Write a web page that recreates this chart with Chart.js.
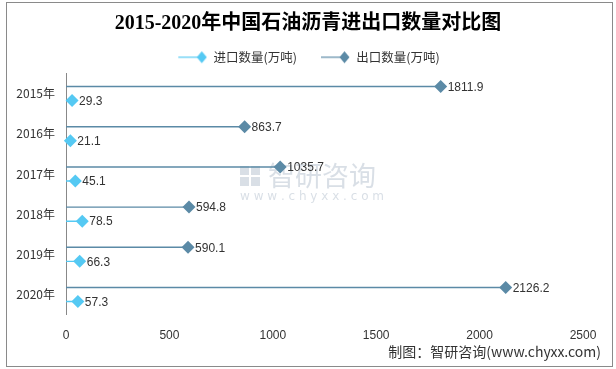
<!DOCTYPE html>
<html>
<head>
<meta charset="utf-8">
<script src="https://cdn.jsdelivr.net/npm/chart.js@4"></script>
<style>
  body { margin: 0; background: #fff; }
  #wrap { position: relative; width: 616px; height: 369px; }
  #frame { position: absolute; left: 6px; top: 2px; width: 605px; height: 363px; border: 1px solid #8a8a8a; pointer-events: none; }
</style>
</head>
<body>
<div id="wrap">
  <canvas id="chart" width="616" height="369"></canvas>
  <div id="frame"></div>
</div>
<script>
const years = ["2015年", "2016年", "2017年", "2018年", "2019年", "2020年"];
const exportVals = [1811.9, 863.7, 1035.7, 594.8, 590.1, 2126.2]; // 出口数量(万吨)
const importVals = [29.3, 21.1, 45.1, 78.5, 66.3, 57.3]; // 进口数量(万吨)
const xTicks = [0, 500, 1000, 1500, 2000, 2500];

const exportColor = "#5b8aa6";
const importColor = "#55c9f3";

// legend icon: blank gap, short line, diamond
function legendIcon(color) {
  const c = document.createElement("canvas");
  c.width = 43;
  c.height = 14;
  const ctx = c.getContext("2d");
  ctx.strokeStyle = color;
  ctx.lineWidth = 1.2;
  ctx.beginPath();
  ctx.moveTo(14, 7);
  ctx.lineTo(37, 7);
  ctx.stroke();
  ctx.fillStyle = color;
  ctx.beginPath();
  ctx.moveTo(37.5, 1);
  ctx.lineTo(42.5, 7);
  ctx.lineTo(37.5, 13);
  ctx.lineTo(32.5, 7);
  ctx.closePath();
  ctx.fill();
  return c;
}

// diamonds + value labels at the end of each thin bar
const endMarks = {
  id: "endMarks",
  afterDatasetsDraw(chart) {
    const ctx = chart.ctx;
    chart.data.datasets.forEach((ds, i) => {
      const meta = chart.getDatasetMeta(i);
      meta.data.forEach((bar, j) => {
        ctx.save();
        ctx.fillStyle = ds.borderColor;
        Chart.helpers.drawPoint(ctx, { pointStyle: "rectRot", radius: 6.5, borderWidth: 0 }, bar.x, bar.y);
        ctx.fillStyle = "#333";
        ctx.font = "12px 'Liberation Sans', 'DejaVu Sans', sans-serif";
        ctx.textBaseline = "middle";
        ctx.textAlign = "left";
        ctx.fillText(ds.data[j], bar.x + 7, bar.y + 1);
        ctx.restore();
      });
    });
  }
};

// faint watermark + source note, and nudge the legend a little left
const extras = {
  id: "extras",
  afterLayout(chart) {
    chart.legend.left -= 6;
    chart.legend.right -= 6;
  },
  beforeDatasetsDraw(chart) {
    const ctx = chart.ctx;
    ctx.save();
    ctx.fillStyle = "rgba(170,185,200,0.45)";
    ctx.fillRect(240, 166, 9, 9);
    ctx.fillRect(251, 166, 9, 9);
    ctx.fillRect(240, 177, 9, 9);
    ctx.fillRect(251, 177, 9, 9);
    ctx.font = "27px 'Noto Sans CJK SC', sans-serif";
    ctx.textBaseline = "middle";
    ctx.fillText("智研咨询", 268, 176);
    ctx.font = "12px 'DejaVu Sans', sans-serif";
    ctx.fillText("w w w . c h y x x . c o m", 240, 197);
    ctx.restore();
  },
  afterDraw(chart) {
    const ctx = chart.ctx;
    ctx.save();
    ctx.fillStyle = "#333";
    ctx.font = "14px 'Noto Sans CJK SC', sans-serif";
    ctx.textAlign = "right";
    ctx.textBaseline = "middle";
    ctx.fillText("制图：智研咨询(www.chyxx.com)", 601, 352);
    ctx.restore();
  }
};

new Chart(document.getElementById("chart"), {
  type: "bar",
  data: {
    labels: years,
    datasets: [
      {
        label: "出口数量(万吨)",
        data: exportVals,
        backgroundColor: exportColor,
        borderColor: exportColor,
        categoryPercentage: 0.7,
        barPercentage: 0.1,
      },
      {
        label: "进口数量(万吨)",
        data: importVals,
        backgroundColor: importColor,
        borderColor: importColor,
        categoryPercentage: 0.7,
        barPercentage: 0.1,
      },
    ],
  },
  options: {
    indexAxis: "y",
    responsive: false,
    animation: false,
    layout: { padding: { left: 5, right: 5, top: 8, bottom: 20 } },
    plugins: {
      title: {
        display: true,
        text: "2015-2020年中国石油沥青进出口数量对比图",
        color: "#000",
        font: { size: 20, weight: "bold", family: "'Liberation Serif', 'Noto Sans CJK SC', serif" },
        padding: { top: 4, bottom: 5 },
      },
      legend: {
        position: "top",
        labels: {
          usePointStyle: true,
          pointStyleWidth: 43,
          color: "#333",
          font: { size: 12.5, family: "'Noto Sans CJK SC', sans-serif" },
          padding: 10,
          generateLabels: (chart) =>
            [1, 0].map((i) => ({
              text: chart.data.datasets[i].label,
              pointStyle: legendIcon(chart.data.datasets[i].borderColor),
              fillStyle: chart.data.datasets[i].borderColor,
              strokeStyle: chart.data.datasets[i].borderColor,
              lineWidth: 0,
              hidden: false,
              datasetIndex: i,
              fontColor: "#333",
            })),
        },
      },
      tooltip: { enabled: false },
    },
    scales: {
      x: {
        min: 0,
        max: 2500,
        afterBuildTicks: (axis) => {
          axis.ticks = xTicks.map((v) => ({ value: v }));
        },
        grid: { display: false },
        border: { display: false },
        ticks: {
          color: "#333",
          font: { size: 12, family: "'Liberation Sans', sans-serif" },
          padding: 6,
          callback: (v) => String(v),
        },
      },
      y: {
        afterFit: (axis) => { axis.width = 61; },
        grid: { display: false },
        border: { display: true, color: "#888", width: 1 },
        ticks: { color: "#333", font: { size: 12, family: "'Noto Sans CJK SC', sans-serif" }, padding: 3 },
      },
      // empty spacer on the right so the plot ends where the original does
      yRight: {
        type: "category",
        position: "right",
        afterFit: (axis) => { axis.width = 28; },
        grid: { display: false },
        border: { display: false },
        ticks: { display: false },
      },
    },
  },
  plugins: [extras, endMarks],
});
</script>
</body>
</html>
